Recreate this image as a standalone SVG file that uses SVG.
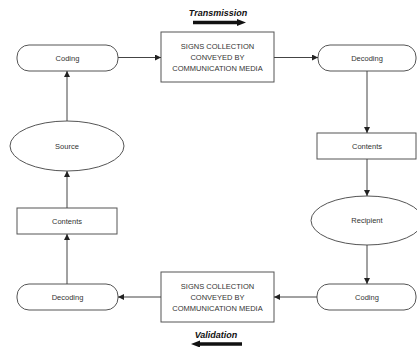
<svg xmlns="http://www.w3.org/2000/svg" width="417" height="347" viewBox="0 0 417 347">
  <defs>
    <marker id="tip" viewBox="0 0 10 10" refX="10" refY="5" markerWidth="6" markerHeight="6" markerUnits="userSpaceOnUse" orient="auto">
      <path d="M0,0 L10,5 L0,10 z" fill="#222"/>
    </marker>
  </defs>
  <style>
    .shape { fill: #fff; stroke: #555; stroke-width: 1; }
    .lbl { font-family: "Liberation Sans", Arial, sans-serif; font-size: 7.5px; fill: #333; text-anchor: middle; dominant-baseline: central; }
    .dir { font-family: "Liberation Sans", Arial, sans-serif; font-size: 9px; font-weight: bold; font-style: italic; fill: #111; text-anchor: middle; }
    .link { fill: none; stroke: #444; stroke-width: 1; marker-end: url(#tip); }
  </style>
  <rect width="417" height="347" fill="#fff"/>

  <!-- transmission direction -->
  <g id="transmission">
    <text class="dir" x="218" y="16">Transmission</text>
    <line x1="193" y1="22.5" x2="238" y2="22.5" stroke="#111" stroke-width="3.5"/>
    <polygon points="237,19 246,22.5 237,26" fill="#111"/>
  </g>

  <!-- validation direction -->
  <g id="validation">
    <text class="dir" x="216" y="338">Validation</text>
    <line x1="199" y1="344" x2="242" y2="344" stroke="#111" stroke-width="3.5"/>
    <polygon points="200,340.5 191,344 200,347.5" fill="#111"/>
  </g>

  <!-- top row -->
  <g id="coding-top">
    <rect class="shape" x="17" y="45" width="101" height="26" rx="12" ry="12"/>
    <text class="lbl" x="67.5" y="58">Coding</text>
  </g>
  <g id="signs-top">
    <rect class="shape" x="161" y="32" width="113" height="50"/>
    <text class="lbl" x="217.5" y="46">SIGNS COLLECTION</text>
    <text class="lbl" x="217.5" y="57">CONVEYED BY</text>
    <text class="lbl" x="217.5" y="68">COMMUNICATION MEDIA</text>
  </g>
  <g id="decoding-top">
    <rect class="shape" x="318" y="45" width="98" height="26" rx="12" ry="12"/>
    <text class="lbl" x="367" y="58">Decoding</text>
  </g>

  <!-- right column -->
  <g id="contents-right">
    <rect class="shape" x="317" y="133" width="99" height="26"/>
    <text class="lbl" x="367" y="146">Contents</text>
  </g>
  <g id="recipient">
    <ellipse class="shape" cx="367" cy="220.5" rx="56" ry="24.5"/>
    <text class="lbl" x="367" y="220.5">Recipient</text>
  </g>

  <!-- bottom row -->
  <g id="coding-bottom">
    <rect class="shape" x="317" y="284" width="99" height="26" rx="12" ry="12"/>
    <text class="lbl" x="367" y="297">Coding</text>
  </g>
  <g id="signs-bottom">
    <rect class="shape" x="161" y="272" width="113" height="50"/>
    <text class="lbl" x="217.5" y="286">SIGNS COLLECTION</text>
    <text class="lbl" x="217.5" y="297">CONVEYED BY</text>
    <text class="lbl" x="217.5" y="308">COMMUNICATION MEDIA</text>
  </g>
  <g id="decoding-bottom">
    <rect class="shape" x="17" y="284" width="101" height="26" rx="12" ry="12"/>
    <text class="lbl" x="67.5" y="297">Decoding</text>
  </g>

  <!-- left column -->
  <g id="contents-left">
    <rect class="shape" x="17" y="208" width="100" height="26"/>
    <text class="lbl" x="67" y="221">Contents</text>
  </g>
  <g id="source">
    <ellipse class="shape" cx="67" cy="146" rx="57" ry="25"/>
    <text class="lbl" x="67" y="146">Source</text>
  </g>

  <!-- connectors -->
  <g id="connectors">
    <line class="link" x1="118" y1="57.5" x2="161" y2="57.5"/>
    <line class="link" x1="274" y1="57.5" x2="318" y2="57.5"/>
    <line class="link" x1="367" y1="71" x2="367" y2="133"/>
    <line class="link" x1="367" y1="159" x2="367" y2="196"/>
    <line class="link" x1="367" y1="245" x2="367" y2="284"/>
    <line class="link" x1="317" y1="297" x2="274" y2="297"/>
    <line class="link" x1="161" y1="297" x2="118" y2="297"/>
    <line class="link" x1="67" y1="284" x2="67" y2="234"/>
    <line class="link" x1="67" y1="208" x2="67" y2="171"/>
    <line class="link" x1="67" y1="121" x2="67" y2="71"/>
  </g>
</svg>
